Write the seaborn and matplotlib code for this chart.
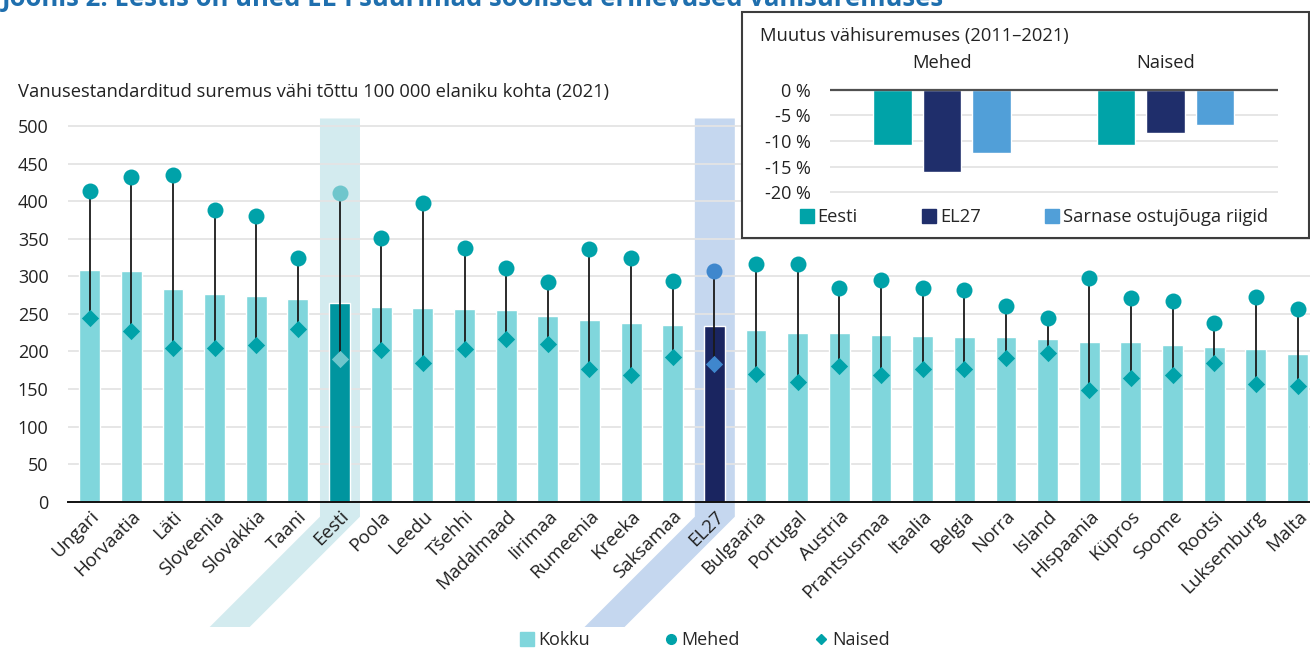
import numpy as np
import pandas as pd
import matplotlib
matplotlib.use("Agg")
import matplotlib.pyplot as plt
from matplotlib.patches import Polygon, Rectangle
from matplotlib.lines import Line2D
import seaborn as sns

# --- main chart data (age-standardised cancer mortality per 100 000, 2021) ---
countries = ["Ungari", "Horvaatia", "Läti", "Sloveenia", "Slovakkia", "Taani", "Eesti",
             "Poola", "Leedu", "Tšehhi", "Madalmaad", "Iirimaa", "Rumeenia", "Kreeka",
             "Saksamaa", "EL27", "Bulgaaria", "Portugal", "Austria", "Prantsusmaa",
             "Itaalia", "Belgia", "Norra", "Island", "Hispaania", "Küpros", "Soome",
             "Rootsi", "Luksemburg", "Malta"]
total_rate = [309, 307, 283, 277, 274, 270, 265, 259, 258, 256, 255, 247, 242, 238, 235,
              234, 228, 225, 224, 222, 221, 219, 219, 217, 213, 212, 209, 206, 203, 197]
men_rate = [414, 432, 435, 388, 380, 325, 411, 351, 398, 337, 311, 293, 336, 325, 294,
            307, 317, 317, 285, 295, 284, 282, 260, 245, 298, 271, 267, 238, 272, 256]
women_rate = [244, 227, 205, 205, 209, 230, 190, 202, 184, 203, 217, 210, 176, 169, 193,
              183, 170, 159, 181, 169, 176, 176, 191, 198, 149, 165, 169, 185, 157, 154]
y_ticks = [0, 50, 100, 150, 200, 250, 300, 350, 400, 450, 500]

# --- inset data (change in cancer mortality 2011-2021, %) ---
inset_groups = ["Mehed", "Naised"]
inset_series = ["Eesti", "EL27", "Sarnase ostujõuga riigid"]
change_eesti = [-10.7, -10.7]
change_el27 = [-16.1, -8.5]
change_similar = [-12.4, -6.8]
inset_ticks = [0, -5, -10, -15, -20]

W, H = 1310, 650

LIGHT_BAR = "#80d6dc"
EESTI_BAR = "#00959f"
EL27_BAR = "#1a2560"
DOT = "#00a2a9"
EESTI_DOT = "#6fc6cc"
EL27_DOT = "#3f87cd"
EESTI_BAND = "#d3ebef"
EL27_BAND = "#c5d7ef"
INSET_COLORS = {"Eesti": "#00a3a8", "EL27": "#1f2e6b", "Sarnase ostujõuga riigid": "#519fd8"}
TEXT = "#222222"


def px_box(x0, y0, x1, y1):
    """Pixel box (top-left origin) -> figure fraction rect."""
    return [x0 / W, 1 - y1 / H, (x1 - x0) / W, (y1 - y0) / H]


def add_band(fig, ax, idx, color, ytop):
    # highlight column that runs down under the axis and slants along the label
    to_px = ax.transData.transform
    left, top = to_px((idx - 0.47, ytop))
    right, _ = to_px((idx + 0.49, ytop))
    _, base = to_px((idx, 0))
    kink = base - 15
    bottom = H - 627
    drop = kink - bottom
    verts = np.array([(left, top), (right, top), (right, kink), (right - drop, bottom),
                      (left - drop, bottom), (left, kink)]) / [W, H]
    fig.add_artist(Polygon(verts, closed=True, transform=fig.transFigure,
                           facecolor=color, edgecolor="none", zorder=-1))


def draw_main(fig):
    ax = fig.add_axes(px_box(68, 118.5, 1310, 501.7))
    ax.set_facecolor("none")

    df = pd.DataFrame({"maa": countries, "kokku": total_rate,
                       "mehed": men_rate, "naised": women_rate})

    bar_colors = {c: LIGHT_BAR for c in countries}
    bar_colors["Eesti"] = EESTI_BAR
    bar_colors["EL27"] = EL27_BAR
    dot_colors = {c: DOT for c in countries}
    dot_colors["Eesti"] = EESTI_DOT
    dot_colors["EL27"] = EL27_DOT

    sns.barplot(data=df, x="maa", y="kokku", hue="maa", palette=bar_colors, width=0.5,
                saturation=1, legend=False, ax=ax, zorder=2)
    pos = np.arange(len(countries))
    ax.vlines(pos, df["naised"], df["mehed"], color="#1a1a1a", lw=1.3, zorder=3)
    sns.stripplot(data=df, x="maa", y="mehed", hue="maa", palette=dot_colors, jitter=False,
                  size=11.5, marker="o", linewidth=0, legend=False, ax=ax, zorder=4)
    sns.stripplot(data=df, x="maa", y="naised", hue="maa", palette=dot_colors, jitter=False,
                  size=8.8, marker="D", linewidth=0, legend=False, ax=ax, zorder=4)

    ax.set_xlim(-0.52, 29.3)
    ax.set_ylim(0, 510)
    ax.set_yticks(y_ticks)
    ax.yaxis.grid(True, color="#e4e4e4", lw=1.3)
    ax.set_axisbelow(True)
    for s in ["left", "top", "right"]:
        ax.spines[s].set_visible(False)
    ax.spines["bottom"].set_color("#111111")
    ax.spines["bottom"].set_linewidth(1.4)
    ax.set_xlabel("")
    ax.set_ylabel("")
    ax.tick_params(axis="y", length=0, pad=14, labelsize=13, labelcolor=TEXT)
    ax.tick_params(axis="x", length=0, pad=4, labelsize=13.5, labelcolor=TEXT)
    ax.set_xticks(pos)
    ax.set_xticklabels(countries, rotation=45, ha="right", va="top",
                       rotation_mode="anchor")

    add_band(fig, ax, countries.index("Eesti"), EESTI_BAND, 510)
    add_band(fig, ax, countries.index("EL27"), EL27_BAND, 510)

    fig.text(18 / W, 1 - 92 / H,
             "Vanusestandarditud suremus vähi tõttu 100 000 elaniku kohta (2021)",
             va="center", ha="left", fontsize=13.2, color=TEXT)

    handles = [
        Line2D([], [], ls="none", marker="s", ms=10, color=LIGHT_BAR, label="Kokku"),
        Line2D([], [], ls="none", marker="o", ms=7, color=DOT, label="Mehed"),
        Line2D([], [], ls="none", marker="D", ms=5, color=DOT, label="Naised"),
    ]
    fig.legend(handles=handles, loc="center", bbox_to_anchor=(704 / W, 1 - 640 / H),
               ncol=3, frameon=False, fontsize=13, handletextpad=0.1,
               columnspacing=4.0, handlelength=1.0)


def draw_inset(fig):
    box = Rectangle((742 / W, 1 - 238 / H), (1309 - 742) / W, (238 - 12) / H,
                    transform=fig.transFigure, facecolor="white", edgecolor="#3d3d3d",
                    lw=1.5, zorder=1)
    fig.add_artist(box)

    iax = fig.add_axes(px_box(830, 88.2, 1277.5, 193.8))
    iax.set_zorder(2)
    iax.set_facecolor("none")

    inset_df = pd.DataFrame({
        "grupp": inset_groups * 3,
        "sari": np.repeat(inset_series, len(inset_groups)),
        "muutus": change_eesti + change_el27 + change_similar,
    })
    sns.barplot(data=inset_df, x="grupp", y="muutus", hue="sari", palette=INSET_COLORS,
                width=0.663, gap=0.22, saturation=1, legend=False, ax=iax, zorder=2)

    iax.set_xlim(-0.5, 1.5)
    iax.set_ylim(-20.3, 0.3)
    iax.set_yticks(inset_ticks)
    iax.set_yticklabels([f"{t} %" for t in inset_ticks])
    iax.yaxis.grid(True, color="#e4e4e4", lw=1.3)
    iax.set_axisbelow(True)
    iax.axhline(0, color="#505050", lw=1.6, zorder=3)
    for s in iax.spines.values():
        s.set_visible(False)
    iax.set_xlabel("")
    iax.set_ylabel("")
    iax.tick_params(axis="y", length=0, pad=14, labelsize=13, labelcolor=TEXT)
    iax.tick_params(axis="x", length=0, pad=12, labelsize=13.2, labelcolor=TEXT,
                    top=True, labeltop=True, bottom=False, labelbottom=False)

    fig.text(760 / W, 1 - 36 / H, "Muutus vähisuremuses (2011–2021)",
             va="center", ha="left", fontsize=13.2, color=TEXT, zorder=3)

    handles = [Line2D([], [], ls="none", marker="s", ms=10, color=INSET_COLORS[s], label=s)
               for s in inset_series]
    leg = fig.legend(handles=handles, loc="center", bbox_to_anchor=(1033 / W, 1 - 217 / H),
                     ncol=3, frameon=False, fontsize=13.2, handletextpad=0.1,
                     columnspacing=3.4, handlelength=1.0)
    leg.set_zorder(3)


def main():
    sns.set_theme(style="white")
    plt.rcParams["font.family"] = ["Open Sans", "DejaVu Sans"]

    fig = plt.figure(figsize=(W / 100, H / 100), dpi=100)
    fig.patch.set_facecolor("white")

    draw_main(fig)
    draw_inset(fig)

    # figure title, cropped at the top edge as in the source image
    fig.text(2 / W, 1 - 6 / H,
             "Joonis 2. Eestis on ühed EL-i suurimad soolised erinevused vähisuremuses",
             va="baseline", ha="left", fontsize=18.5, fontweight="bold", color="#1f6fae")

    fig.savefig("out.png", dpi=100)


if __name__ == "__main__":
    main()
